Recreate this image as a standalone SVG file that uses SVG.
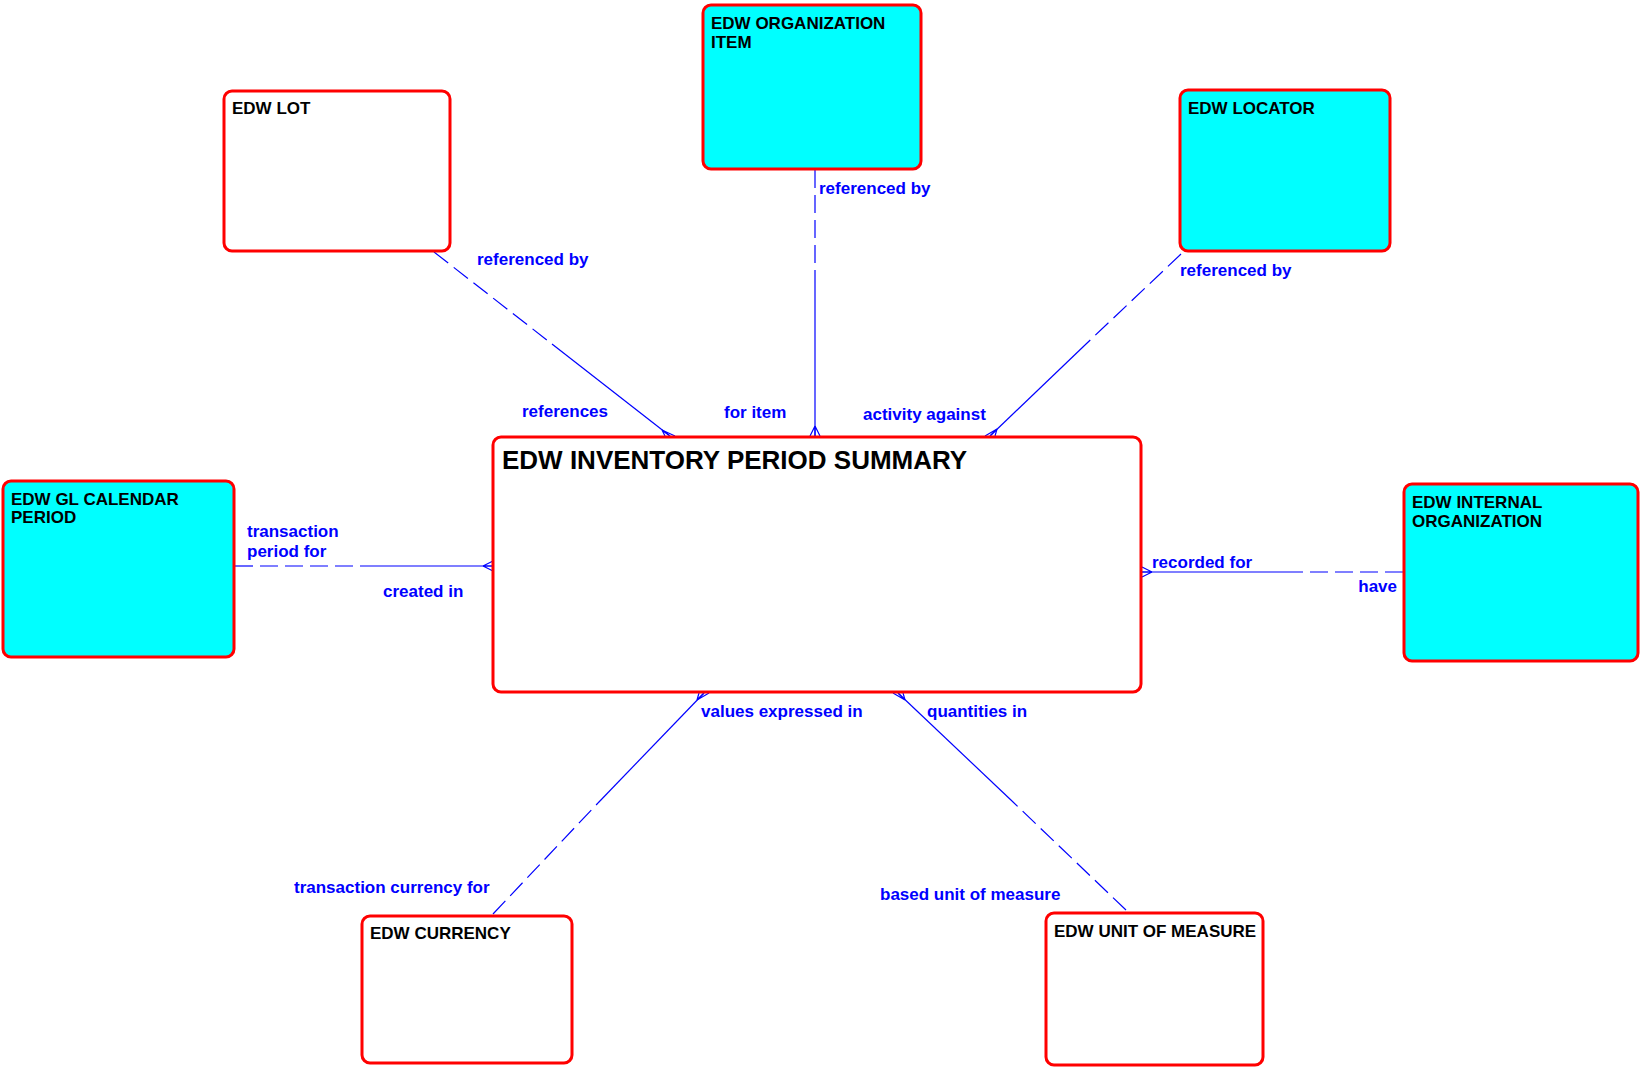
<svg xmlns="http://www.w3.org/2000/svg" width="1641" height="1067" viewBox="0 0 1641 1067">
<style>
.box{stroke:#ff0000;stroke-width:3;}
.cy{fill:#00ffff;}
.wh{fill:#ffffff;}
.t{font-family:"Liberation Sans",Arial,sans-serif;font-weight:bold;font-size:17px;fill:#000;}
.tm{font-family:"Liberation Sans",Arial,sans-serif;font-weight:bold;font-size:26px;fill:#000;}
.l{font-family:"Liberation Sans",Arial,sans-serif;font-weight:bold;font-size:17px;fill:#0000ff;}
.c{stroke:#0000ff;stroke-width:1.2;fill:none;}
.d{stroke-dasharray:18 7;}
</style>
<rect width="1641" height="1067" fill="#ffffff"/>
<g id="connectors">
<g id="c-lot">
<path class="c d" d="M434,252 L552,344"/>
<path class="c" d="M552,344 L670,436"/>
<path class="c" d="M662,430 L665,436 M662,430 L670,436 M662,430 L675,436"/>
<text class="l" x="477" y="265">referenced by</text>
<text class="l" x="522" y="417">references</text>
</g>
<g id="c-orgitem">
<path class="c d" d="M815,170 L815,283"/>
<path class="c" d="M815,283 L815,436"/>
<path class="c" d="M815,426 L810,436 M815,426 L815,436 M815,426 L820,436"/>
<text class="l" x="819" y="194">referenced by</text>
<text class="l" x="724" y="418">for item</text>
</g>
<g id="c-locator">
<path class="c d" d="M1181,254 L1085,345"/>
<path class="c" d="M1085,345 L990,436"/>
<path class="c" d="M997,429 L985,436 M997,429 L990,436 M997,429 L995,436"/>
<text class="l" x="1180" y="276">referenced by</text>
<text class="l" x="863" y="420">activity against</text>
</g>
<g id="c-gl">
<path class="c d" d="M235,566 L360,566"/>
<path class="c" d="M360,566 L493,566"/>
<path class="c" d="M483,566 L493,561 M483,566 L493,566 M483,566 L493,571"/>
<text class="l" x="247" y="537">transaction</text>
<text class="l" x="247" y="557">period for</text>
<text class="l" x="383" y="597">created in</text>
</g>
<g id="c-internal">
<path class="c d" d="M1403,572 L1287,572"/>
<path class="c" d="M1287,572 L1142,572"/>
<path class="c" d="M1152,572 L1142,567 M1152,572 L1142,572 M1152,572 L1142,577"/>
<text class="l" x="1152" y="568">recorded for</text>
<text class="l" x="1397" y="592" text-anchor="end">have</text>
</g>
<g id="c-currency">
<path class="c d" d="M493,914 L598,803"/>
<path class="c" d="M598,803 L704,693"/>
<path class="c" d="M697,700 L699,693 M697,700 L704,693 M697,700 L709,693"/>
<text class="l" x="294" y="893">transaction currency for</text>
<text class="l" x="701" y="717">values expressed in</text>
</g>
<g id="c-uom">
<path class="c d" d="M1126,910 L1012,801"/>
<path class="c" d="M1012,801 L898,693"/>
<path class="c" d="M905,700 L893,693 M905,700 L898,693 M905,700 L903,693"/>
<text class="l" x="880" y="900">based unit of measure</text>
<text class="l" x="927" y="717">quantities in</text>
</g>
</g>
<g id="n-lot">
<rect class="box wh" x="224" y="91" width="226" height="160" rx="8"/>
<text class="t" x="232" y="114">EDW LOT</text>
</g>
<g id="n-orgitem">
<rect class="box cy" x="703" y="5" width="218" height="164" rx="8"/>
<text class="t" x="711" y="29">EDW ORGANIZATION</text>
<text class="t" x="711" y="48">ITEM</text>
</g>
<g id="n-locator">
<rect class="box cy" x="1180" y="90" width="210" height="161" rx="8"/>
<text class="t" x="1188" y="114">EDW LOCATOR</text>
</g>
<g id="n-gl">
<rect class="box cy" x="3" y="481" width="231" height="176" rx="8"/>
<text class="t" x="11" y="505">EDW GL CALENDAR</text>
<text class="t" x="11" y="523">PERIOD</text>
</g>
<g id="n-main">
<rect class="box wh" x="493" y="437" width="648" height="255" rx="8"/>
<text class="tm" x="502" y="469">EDW INVENTORY PERIOD SUMMARY</text>
</g>
<g id="n-internal">
<rect class="box cy" x="1404" y="484" width="234" height="177" rx="8"/>
<text class="t" x="1412" y="508">EDW INTERNAL</text>
<text class="t" x="1412" y="527">ORGANIZATION</text>
</g>
<g id="n-currency">
<rect class="box wh" x="362" y="916" width="210" height="147" rx="8"/>
<text class="t" x="370" y="939">EDW CURRENCY</text>
</g>
<g id="n-uom">
<rect class="box wh" x="1046" y="913" width="217" height="152" rx="8"/>
<text class="t" x="1054" y="937">EDW UNIT OF MEASURE</text>
</g>
</svg>
